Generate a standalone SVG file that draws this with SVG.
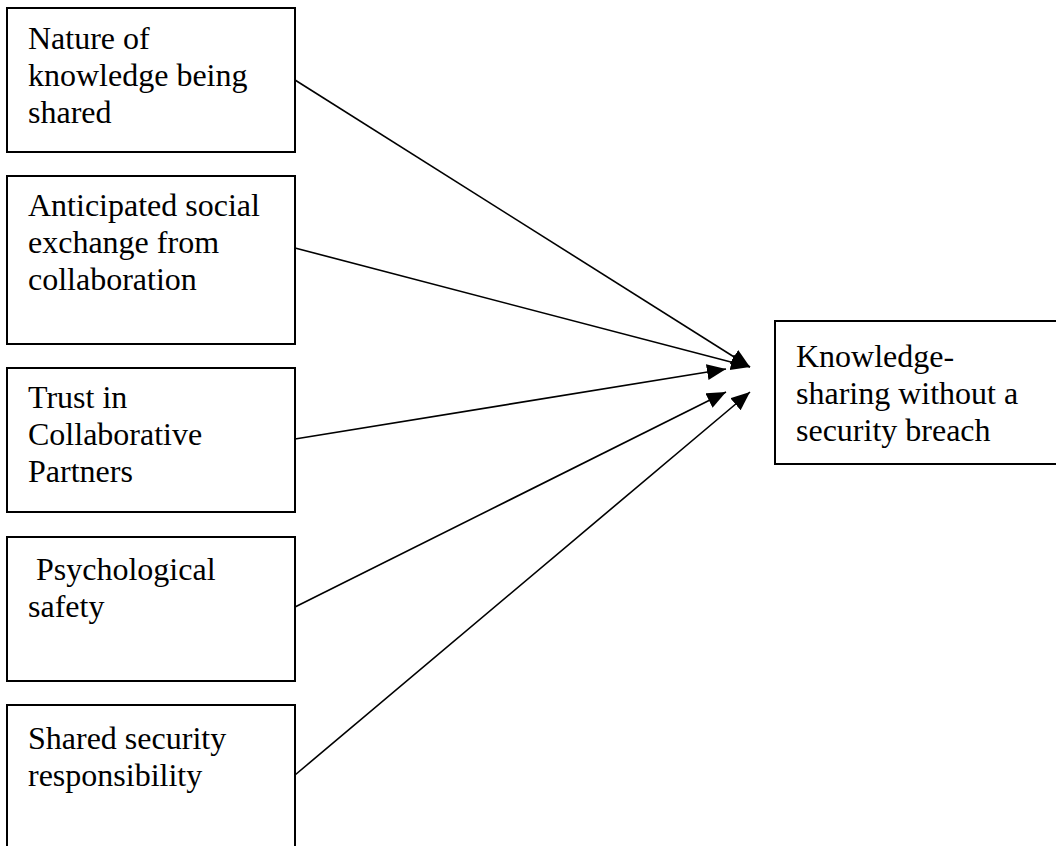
<svg xmlns="http://www.w3.org/2000/svg" width="1056" height="846" viewBox="0 0 1056 846">
<defs>
<style>
.box{fill:#fff;stroke:#000;stroke-width:2}
.t{font-family:"Liberation Serif","Times New Roman",serif;font-size:32px;fill:#000}
.c{stroke:#000;stroke-width:1.6;fill:none}
</style>
<marker id="ah" markerUnits="userSpaceOnUse" markerWidth="22" markerHeight="18" refX="19" refY="8" orient="auto">
<path d="M0,0 L19,8 L0,16 Z" fill="#000"/>
</marker>
</defs>
<rect width="1056" height="846" fill="#fff"/>
<g id="n1">
<rect class="box" x="7" y="8" width="288" height="144"/>
<text class="t" x="28" y="49">Nature of</text>
<text class="t" x="28" y="86">knowledge being</text>
<text class="t" x="28" y="123">shared</text>
</g>
<g id="n2">
<rect class="box" x="7" y="176" width="288" height="168"/>
<text class="t" x="28" y="216">Anticipated social</text>
<text class="t" x="28" y="253">exchange from</text>
<text class="t" x="28" y="290">collaboration</text>
</g>
<g id="n3">
<rect class="box" x="7" y="368" width="288" height="144"/>
<text class="t" x="28" y="408">Trust in</text>
<text class="t" x="28" y="445">Collaborative</text>
<text class="t" x="28" y="482">Partners</text>
</g>
<g id="n4">
<rect class="box" x="7" y="537" width="288" height="144"/>
<text class="t" x="28" y="580" xml:space="preserve"> Psychological</text>
<text class="t" x="28" y="617">safety</text>
</g>
<g id="n5">
<rect class="box" x="7" y="705" width="288" height="150"/>
<text class="t" x="28" y="749">Shared security</text>
<text class="t" x="28" y="786">responsibility</text>
</g>
<g id="target">
<rect class="box" x="775" y="321" width="300" height="143"/>
<text class="t" x="796" y="367">Knowledge-</text>
<text class="t" x="796" y="404">sharing without a</text>
<text class="t" x="796" y="441">security breach</text>
</g>
<g id="connectors">
<line class="c" x1="295" y1="80" x2="750" y2="367" marker-end="url(#ah)"/>
<line class="c" x1="295" y1="248" x2="750" y2="367" marker-end="url(#ah)"/>
<line class="c" x1="295" y1="439" x2="726" y2="369" marker-end="url(#ah)"/>
<line class="c" x1="295" y1="607" x2="726" y2="392" marker-end="url(#ah)"/>
<line class="c" x1="295" y1="775" x2="750" y2="392" marker-end="url(#ah)"/>
</g>
</svg>
